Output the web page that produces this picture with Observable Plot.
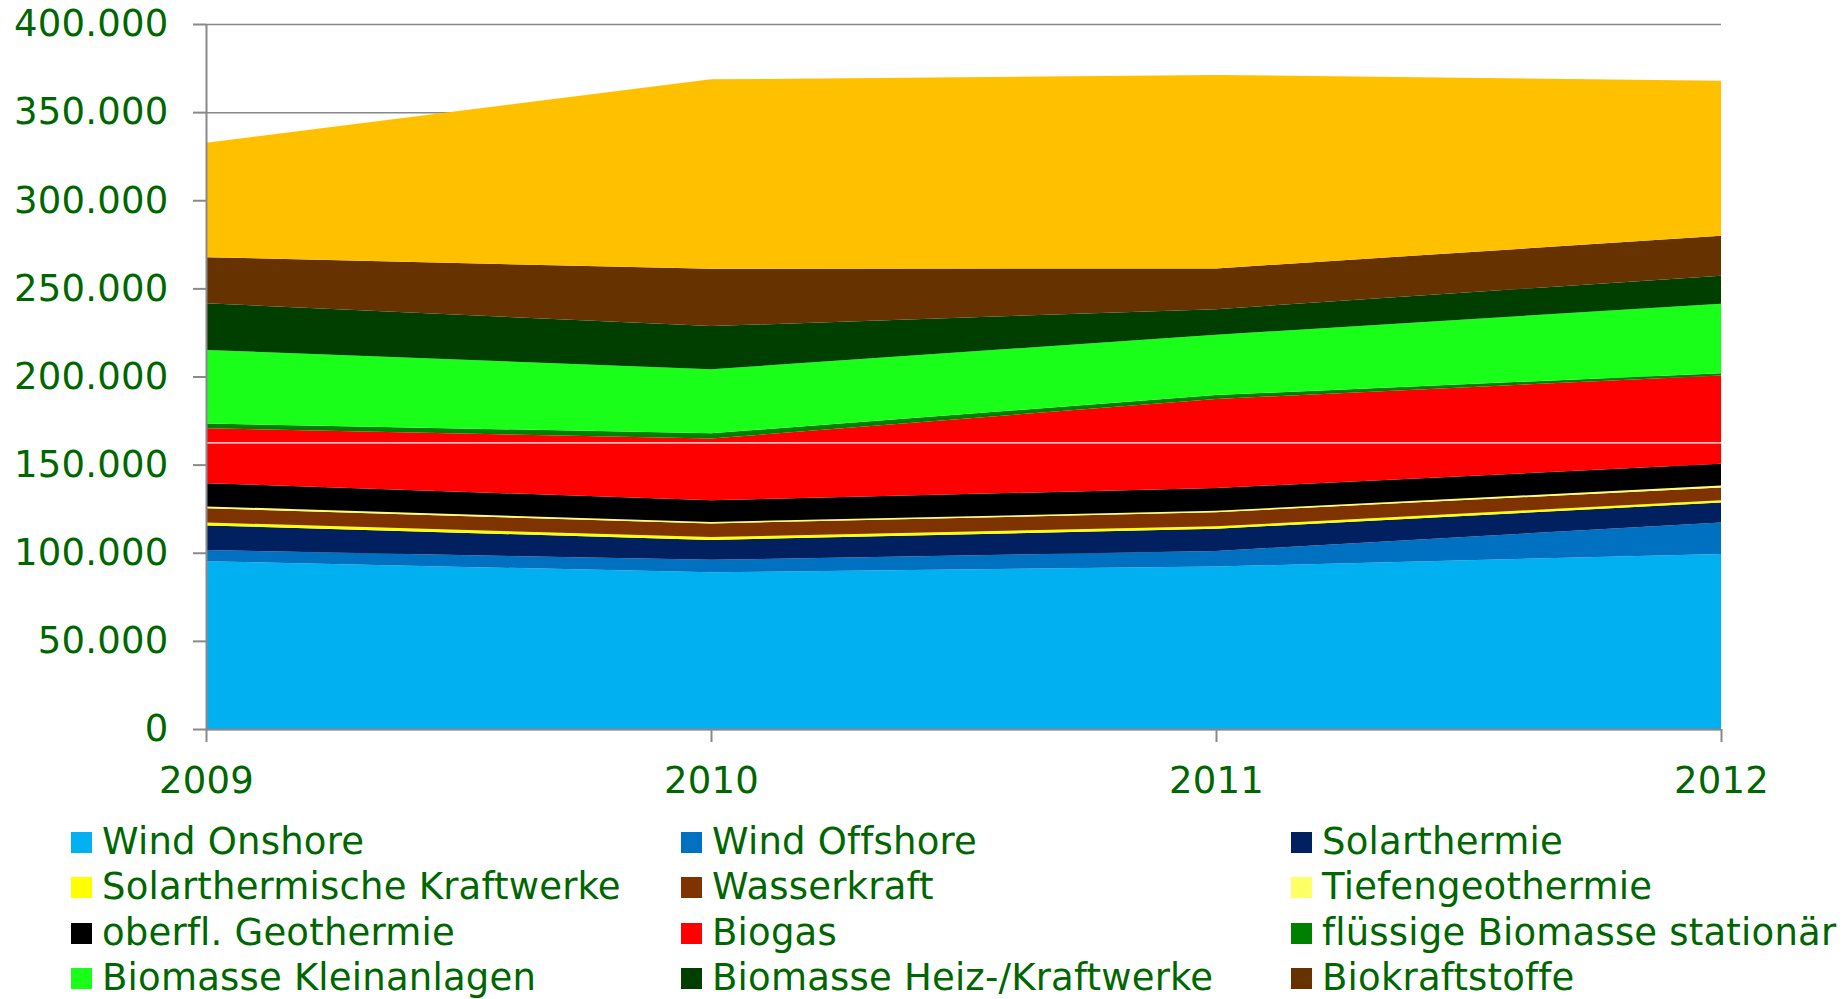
<!DOCTYPE html>
<html><head><meta charset="utf-8">
<script src="https://cdn.jsdelivr.net/npm/d3@7"></script>
<script src="https://cdn.jsdelivr.net/npm/@observablehq/plot@0.6"></script>
<style>
body{margin:0;background:#fff;font-family:"DejaVu Sans",Verdana,sans-serif;}
#wrap{position:relative;width:1843px;height:999px;overflow:hidden}
#chart svg{display:block}
.item{position:absolute;display:flex;align-items:center;height:21px;white-space:nowrap;}
.sw{width:21px;height:21px;margin-right:10px;flex:none}
.lbl{font-size:37px;color:#006600;line-height:1.16;letter-spacing:0.2px}
</style></head><body><div id="wrap"><div id="chart"></div><div id="legend"></div></div>
<script>
const years = [2009, 2010, 2011, 2012];
const seriesNames = ["Wind Onshore","Wind Offshore","Solarthermie","Solarthermische Kraftwerke","Wasserkraft","Tiefengeothermie","oberfl. Geothermie","Biogas","flüssige Biomasse stationär","Biomasse Kleinanlagen","Biomasse Heiz-/Kraftwerke","Biokraftstoffe","Photovoltaik"];
const seriesColors = ["#00B0F0","#0070C0","#002060","#FFFF00","#7F3300","#FFFF66","#000000","#FF0000","#008000","#1AFF1A","#003F00","#663300","#FFC000"];
const legendNames = seriesNames.slice(0, 12);
const windOnshore = [95200, 88900, 92200, 99300];
const windOffshore = [6300, 7100, 8800, 17900];
const solarthermie = [14000, 11300, 12600, 11300];
const solarthermKraftwerke = [1700, 1600, 1400, 1300];
const wasserkraft = [8000, 7700, 8000, 7200];
const tiefengeothermie = [1100, 900, 800, 1100];
const oberflGeothermie = [13200, 12300, 12900, 12400];
const biogas = [31100, 35000, 50600, 50100];
const fluessigeBiomasse = [2700, 3000, 2200, 1300];
const biomasseKleinanlagen = [41800, 36300, 34200, 39400];
const biomasseHeizKraftwerke = [26400, 24500, 14500, 15900];
const biokraftstoffe = [26200, 32500, 23100, 22600];
const photovoltaik = [64900, 107500, 109800, 88000];
const yTicks = [0, 50000, 100000, 150000, 200000, 250000, 300000, 350000, 400000];
const whiteLine = [162600];

const seriesValues = [windOnshore, windOffshore, solarthermie, solarthermKraftwerke, wasserkraft, tiefengeothermie, oberflGeothermie, biogas, fluessigeBiomasse, biomasseKleinanlagen, biomasseHeizKraftwerke, biokraftstoffe, photovoltaik];
const table = [];
seriesNames.forEach((s, i) => years.forEach((y, j) => table.push({series: s, year: y, value: seriesValues[i][j]})));

const fmt = d3.formatLocale({decimal: ",", thousands: ".", grouping: [3], currency: ["", "€"]}).format(",");
const gray = "#898989";
const chart = Plot.plot({
  width: 1843, height: 805,
  marginLeft: 206, marginRight: 122, marginTop: 24, marginBottom: 76,
  style: {fontFamily: '"DejaVu Sans", Verdana, sans-serif', fontSize: "37px", background: "white", letterSpacing: "0.2px"},
  x: {domain: [2009, 2012]},
  y: {domain: [0, 400000]},
  color: {domain: seriesNames, range: seriesColors},
  marks: [
    Plot.ruleY(yTicks, {stroke: gray, strokeWidth: 1.5}),
    Plot.areaY(table, Plot.stackY({x: "year", y: "value", fill: "series", z: "series", order: seriesNames})),
    Plot.ruleY(whiteLine, {stroke: "white", strokeWidth: 1.2}),
    Plot.ruleX([2009], {stroke: gray, strokeWidth: 2}),
    Plot.ruleY([0], {stroke: gray, strokeWidth: 2}),
    Plot.axisY({ticks: yTicks, tickSize: 13, tickPadding: 25, tickFormat: fmt, stroke: gray, strokeWidth: 2, fill: "#006600", fontSize: 37, label: null}),
    Plot.axisX({ticks: years, tickSize: 13, tickPadding: 24, tickFormat: d => String(d), stroke: gray, strokeWidth: 2, fill: "#006600", fontSize: 37, label: null})
  ]
});
document.getElementById("chart").appendChild(chart);

const legend = document.getElementById("legend");
legendNames.forEach((name, i) => {
  const col = i % 3, row = Math.floor(i / 3);
  const item = document.createElement("div");
  item.className = "item";
  item.style.left = (71 + col * 610) + "px";
  item.style.top = (832 + row * 45.3) + "px";
  const sw = document.createElement("div");
  sw.className = "sw";
  sw.style.background = seriesColors[seriesNames.indexOf(name)];
  const lbl = document.createElement("span");
  lbl.className = "lbl";
  lbl.textContent = name;
  item.appendChild(sw); item.appendChild(lbl);
  legend.appendChild(item);
});
</script></body></html>
